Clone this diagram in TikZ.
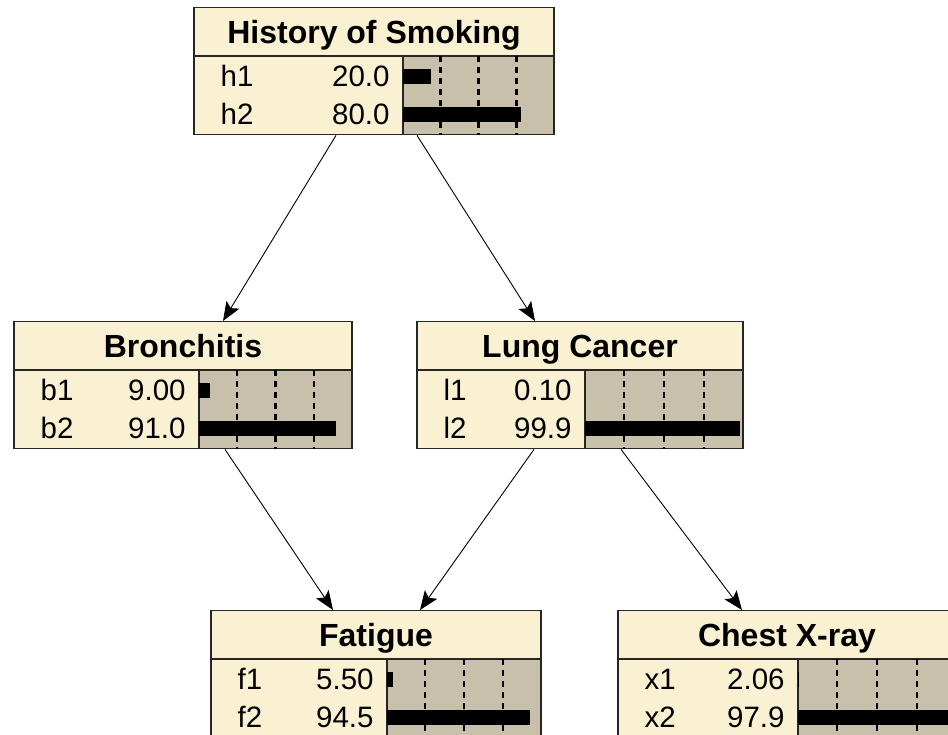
\documentclass[tikz,border=0pt]{standalone}
\usepackage{fontspec}
\setmainfont{Liberation Sans}
\usetikzlibrary{calc, arrows.meta}
\definecolor{boxcream}{RGB}{250,241,210}
\definecolor{bartan}{RGB}{200,192,171}
\tikzstyle{vartitle} = [rectangle, anchor=north, minimum height=48pt, inner sep=0pt, text height=23pt, text depth=0pt, draw=black!85, line width=1.2pt, fill=boxcream, font=\bfseries\fontsize{32}{38}\selectfont]
\tikzstyle{varbody} = [rectangle, anchor=north, minimum height=78pt, inner sep=0pt, draw=black!85, line width=1.2pt, fill=boxcream]
\tikzstyle{barbox} = [rectangle, anchor=north east, minimum height=78pt, inner sep=0pt, draw=black!85, line width=1.2pt, fill=bartan]
\tikzstyle{staterows} = [anchor=base west, inner sep=0pt, align=left, font=\fontsize{29.5}{38}\selectfont]
\tikzstyle{gridline} = [line width=2.4pt, dash pattern=on 6pt off 5pt]
\tikzstyle{arrow} = [-{Stealth[length=19pt, width=15pt, inset=4pt]}, line width=0.9pt, black]

% #1 name, #2 top centre, #3 width, #4 state column width,
% #5 title, #6 state rows, #7 and #8 the two probabilities
\newcommand{\bnvar}[8]{%
  \pgfmathsetmacro{\rowwidth}{#4-40}
  \node (#1) [vartitle, minimum width=#3pt] at #2 {#5};
  \node (#1body) [varbody, minimum width=#3pt] at (#1.south) {};
  \node (#1bar) [barbox, minimum width=#3pt-#4pt] at (#1body.north east) {};
  \node (#1txt) [staterows, text width=\rowwidth pt] at ($(#1body.north west)+(27,30)$) {#6};
  \foreach \f in {0.25,0.5,0.75}
    \draw [gridline] ($(#1bar.north west)!\f!(#1bar.north east)$) -- ($(#1bar.south west)!\f!(#1bar.south east)$);
  \fill ($(#1bar.north west)+(1,12.5)$) rectangle +({max((#3-#4)*#7/100-3,0)},15);
  \fill ($(#1bar.north west)+(1,50.5)$) rectangle +({max((#3-#4)*#8/100-3,0)},15);
}

\begin{document}
\begin{tikzpicture}[x=1pt, y=-1pt]
    \useasboundingbox (0,0) rectangle (948,734);
    \clip (0,0) rectangle (948,734);

    \bnvar{hist}{(374,7)}{360}{209}{History of Smoking}{h1\hfill 20.0\\h2\hfill 80.0}{20.0}{80.0}
    \bnvar{bron}{(183,321)}{338}{185}{Bronchitis}{b1\hfill 9.00\\b2\hfill 91.0}{9.00}{91.0}
    \bnvar{lung}{(580,321)}{326}{168}{Lung Cancer}{l1\hfill 0.10\\l2\hfill 99.9}{0.10}{99.9}
    \bnvar{fati}{(376,610)}{330}{176}{Fatigue}{f1\hfill 5.50\\f2\hfill 94.5}{5.50}{94.5}
    \bnvar{xray}{(787,610)}{338}{180}{Chest X-ray}{x1\hfill 2.06\\x2\hfill 97.9}{2.06}{97.9}

    \draw [arrow] ([xshift=-38pt]histbody.south) -- ([xshift=40pt]bron.north);
    \draw [arrow] ([xshift=43pt]histbody.south) -- ([xshift=-45pt]lung.north);
    \draw [arrow] ([xshift=42pt]bronbody.south) -- ([xshift=-43pt]fati.north);
    \draw [arrow] ([xshift=-46pt]lungbody.south) -- ([xshift=44pt]fati.north);
    \draw [arrow] ([xshift=41pt]lungbody.south) -- ([xshift=-45pt]xray.north);

\end{tikzpicture}
\end{document}
